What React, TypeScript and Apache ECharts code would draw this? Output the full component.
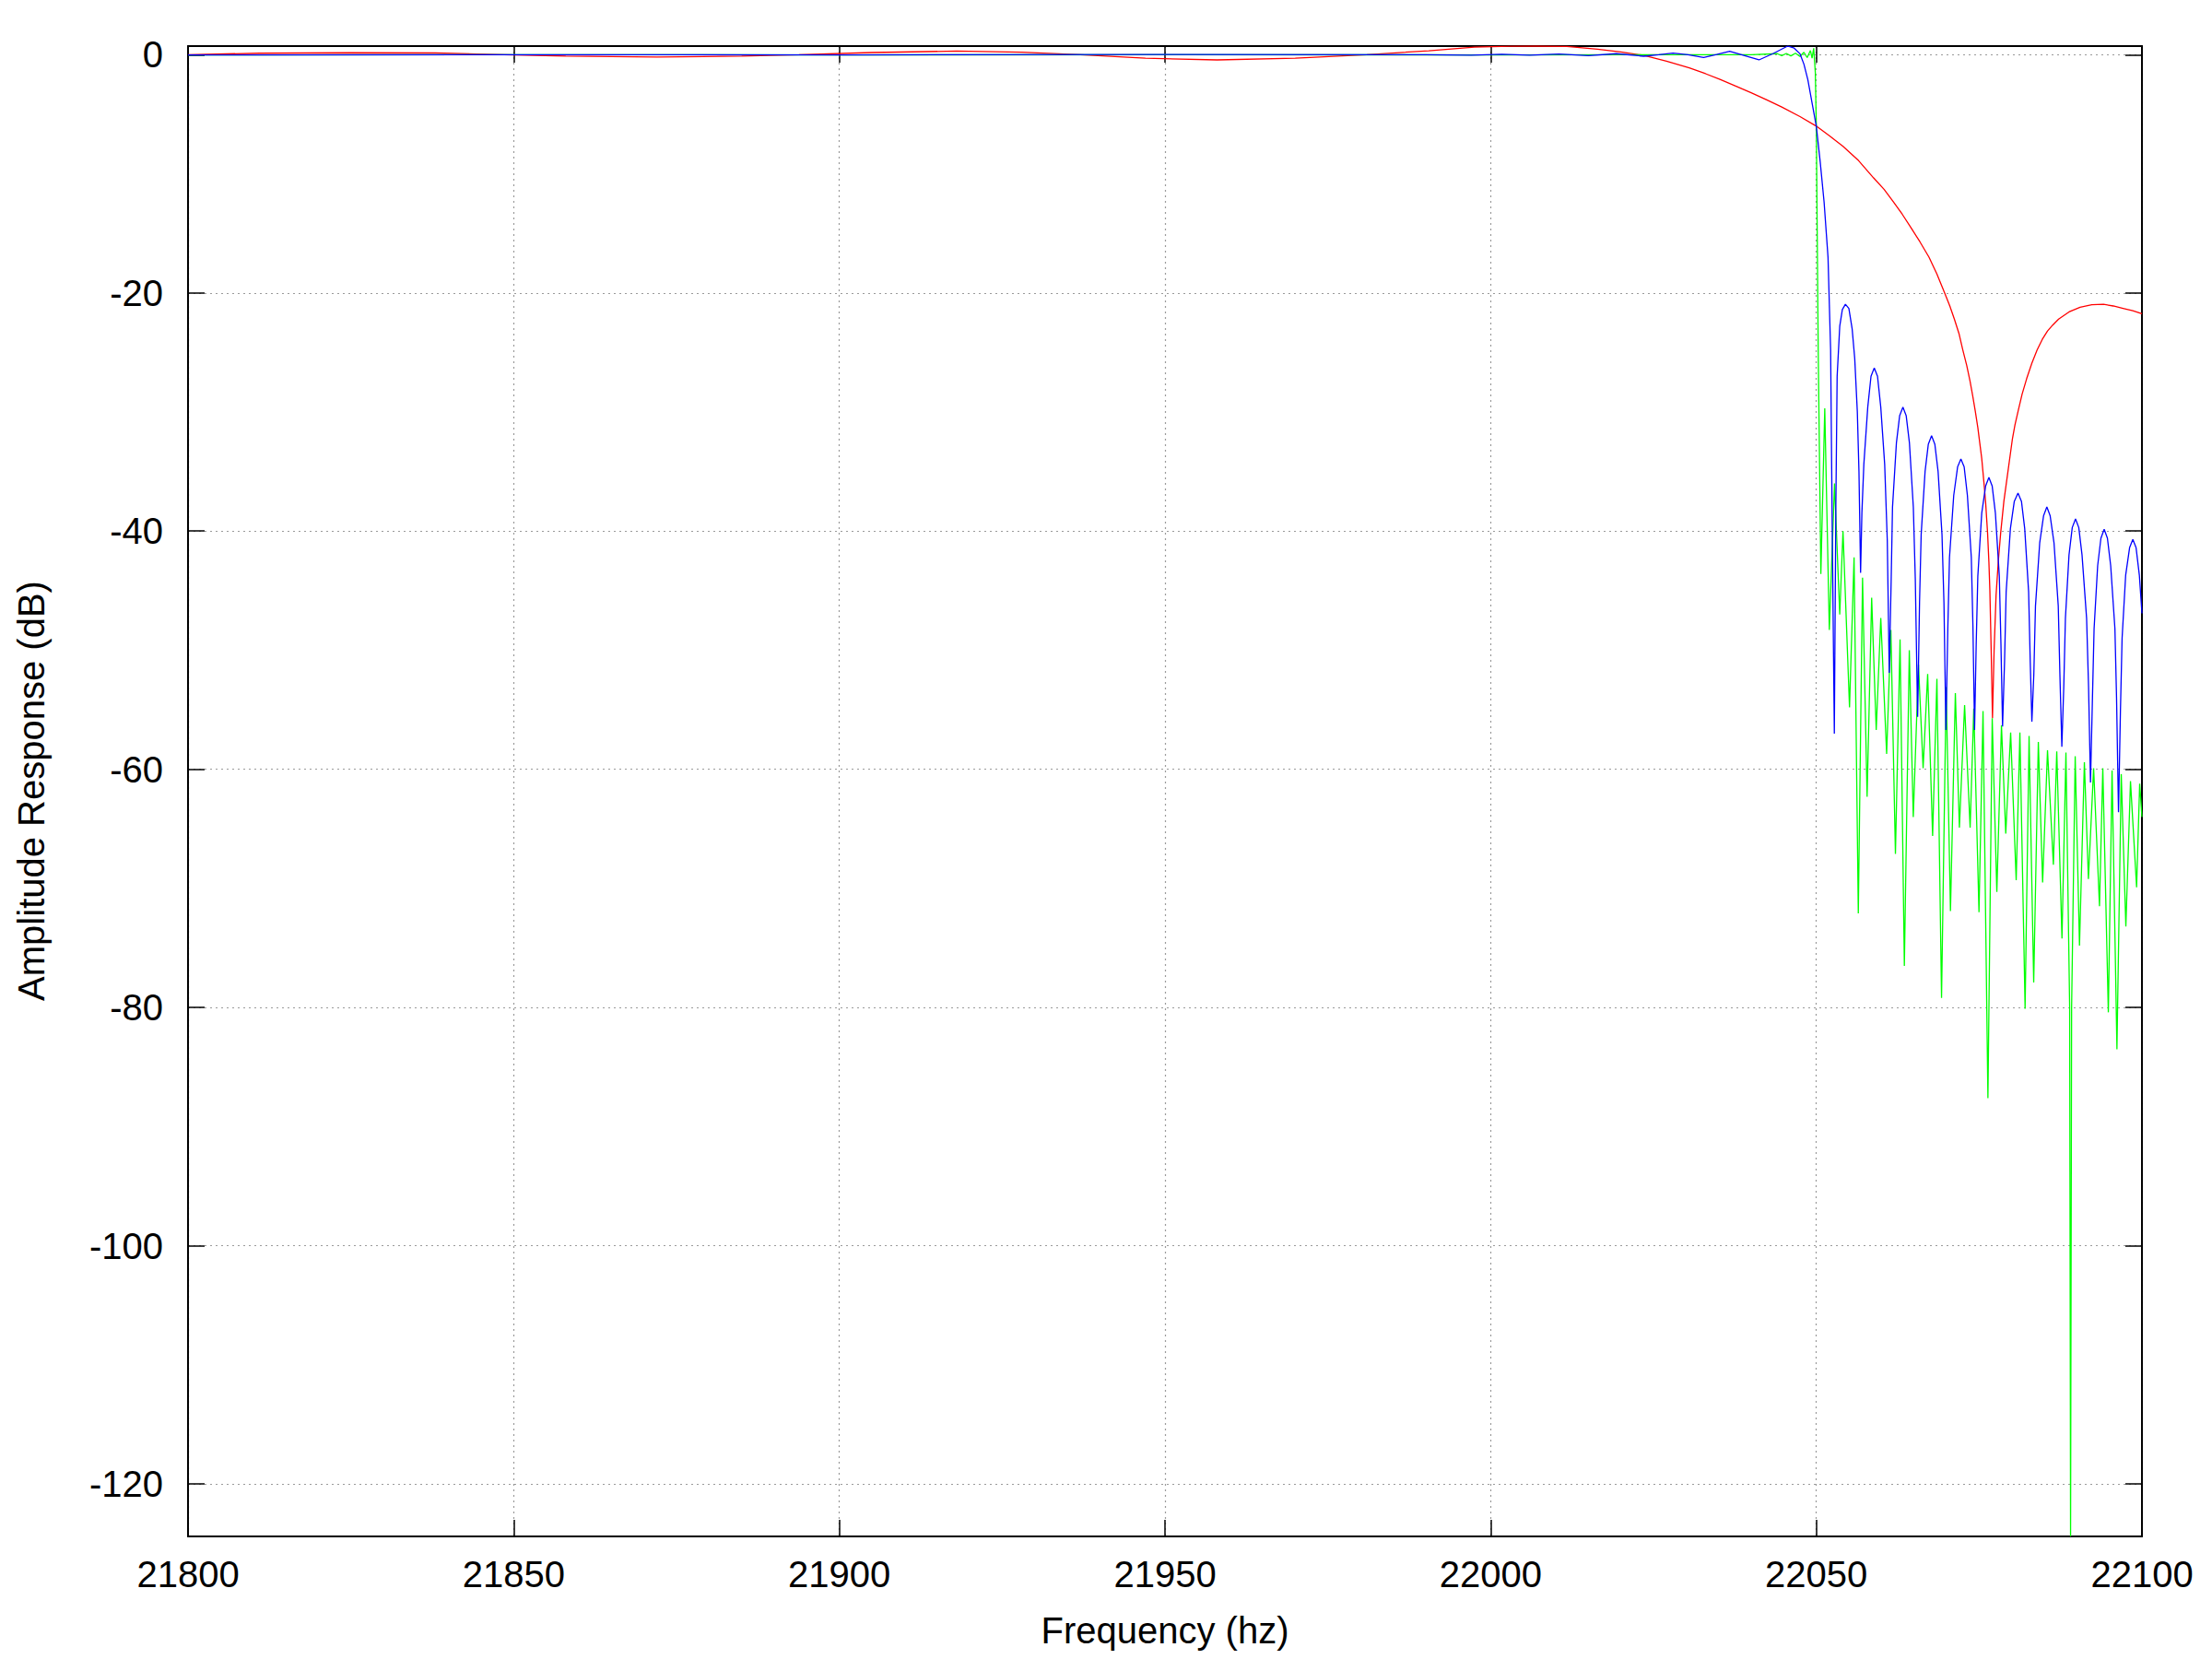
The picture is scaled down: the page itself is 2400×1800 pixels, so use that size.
import React, { useEffect, useRef } from "react";
import * as echarts from "echarts";

// Axis ranges and ticks
const X_MIN = 21800;
const X_MAX = 22100;
const X_STEP = 50;
const Y_MIN = -124.4;
const Y_MAX = 0.72;
const yTicks = [0, -20, -40, -60, -80, -100, -120];

const xAxisTitle = "Frequency (hz)";
const yAxisTitle = "Amplitude Response (dB)";

// Red filter response [Hz, dB]
const redResponse: [number, number][] = [
  [21800, 0.0], [21811, 0.12], [21825, 0.16], [21838, 0.14], [21848.5, 0.0],
  [21858, -0.12], [21872, -0.2], [21885, -0.12], [21893.8, 0.0], [21905, 0.18],
  [21918, 0.3], [21928, 0.2], [21937, 0.0], [21947, -0.3], [21958, -0.44],
  [21970, -0.3], [21981, 0.0], [21990.5, 0.33], [21997.5, 0.64], [22003, 0.71],
  [22007, 0.72], [22011.7, 0.69], [22016.4, 0.46], [22020, 0.22], [22023.4, -0.05],
  [22027, -0.55], [22030.5, -1.1], [22033, -1.6], [22035.3, -2.1], [22037.7, -2.65],
  [22040, -3.2], [22042.4, -3.8], [22044.7, -4.4], [22047.5, -5.2], [22050, -6.0],
  [22052, -6.8], [22054.1, -7.7], [22056.5, -8.9], [22058.8, -10.35], [22060.4, -11.3],
  [22061.9, -12.4], [22063.2, -13.4], [22064.5, -14.5], [22065.9, -15.7], [22067.3, -17.0],
  [22068.5, -18.4], [22069.7, -20.0], [22070.5, -21.1], [22071.2, -22.2], [22071.9, -23.4],
  [22072.5, -24.8], [22073.1, -26.1], [22073.6, -27.4], [22074.0, -28.6], [22074.4, -29.9],
  [22074.8, -31.3], [22075.1, -32.6], [22075.4, -33.9], [22075.6, -35.1], [22075.8, -36.3],
  [22076.0, -37.6], [22076.15, -38.9], [22076.3, -40.2], [22076.5, -42.6], [22076.65, -45.0],
  [22076.85, -50.0], [22077.05, -55.7], [22077.3, -50.0], [22077.6, -45.4], [22077.95, -42.5],
  [22078.3, -40.2], [22078.8, -37.5], [22079.4, -35.1], [22080.1, -32.3], [22080.5, -31.1],
  [22081.0, -29.9], [22081.6, -28.5], [22082.3, -27.2], [22083.1, -25.9], [22083.9, -24.8],
  [22084.7, -23.9], [22085.5, -23.2], [22086.3, -22.7], [22087.2, -22.2], [22088.8, -21.6],
  [22090.5, -21.2], [22092.3, -21.0], [22094.1, -20.96], [22095.6, -21.1], [22097.1, -21.3],
  [22098.6, -21.5], [22100, -21.75],
];

// Green filter response [Hz, dB]
const greenResponse: [number, number][] = [
  [21800, -0.02], [21850, 0.0], [21900, -0.02], [21950, 0.0], [22000, -0.02],
  [22040, 0.0], [22044, 0.08], [22044.7, -0.08], [22045.4, 0.1], [22046.1, -0.1],
  [22046.8, 0.12], [22047.5, -0.15], [22048.1, 0.2], [22048.6, -0.25], [22049.1, 0.35],
  [22049.35, -0.3], [22049.6, 0.54], [22049.85, -1.5], [22050.0, -6.0], [22050.3, -25.0],
  [22050.7, -43.6], [22051.3, -29.7], [22052.0, -48.3], [22052.8, -36.0], [22053.6, -47.0],
  [22054.1, -40.0], [22055.1, -54.8], [22055.8, -42.2], [22056.45, -72.1], [22057.1, -43.9],
  [22057.8, -62.3], [22058.5, -45.6], [22059.2, -56.7], [22059.9, -47.3], [22060.8, -58.7],
  [22061.45, -48.3], [22062.15, -67.1], [22062.86, -49.1], [22063.52, -76.5], [22064.28, -50.0],
  [22064.89, -64.0], [22065.69, -51.2], [22066.4, -59.9], [22067.1, -52.0], [22067.86, -65.6],
  [22068.52, -52.4], [22069.23, -79.2], [22069.94, -53.1], [22070.6, -71.9], [22071.35, -53.6],
  [22071.97, -64.9], [22072.77, -54.6], [22073.62, -64.9], [22074.18, -54.9], [22074.98, -72.0],
  [22075.6, -55.1], [22076.35, -87.6], [22077.01, -55.7], [22077.72, -70.3], [22078.43, -56.3],
  [22079.09, -65.4], [22079.84, -56.9], [22080.69, -69.3], [22081.26, -56.9], [22082.06, -80.1],
  [22082.67, -57.2], [22083.38, -77.9], [22084.09, -57.7], [22084.75, -69.5], [22085.5, -58.4],
  [22086.4, -68.0], [22086.92, -58.5], [22087.72, -74.2], [22088.33, -58.6], [22088.9, -80.0],
  [22089.04, -124.4], [22089.2, -80.0], [22089.75, -58.9], [22090.41, -74.8], [22091.16, -59.4],
  [22091.78, -69.2], [22092.58, -59.9], [22093.48, -71.5], [22093.99, -59.9], [22094.84, -80.4],
  [22095.41, -60.1], [22096.16, -83.5], [22096.82, -60.4], [22097.53, -73.2], [22098.24, -61.0],
  [22099.18, -69.9], [22099.65, -61.2], [22100, -64.0],
];

// Blue filter response [Hz, dB]
const blueResponse: [number, number][] = [
  [21800, -0.02], [21850, 0.0], [21900, -0.02], [21950, 0.02], [21990, 0.0],
  [21997, -0.04], [22001.7, 0.04], [22006, -0.05], [22010.5, 0.05], [22015, -0.08],
  [22019.3, 0.08], [22023.5, -0.13], [22025.8, 0.0], [22028, 0.13], [22030.3, 0.0],
  [22032.7, -0.23], [22034.7, 0.02], [22036.7, 0.28], [22039, -0.08], [22041.2, -0.44],
  [22043.4, 0.1], [22045.6, 0.72], [22046.6, 0.55], [22047.5, 0.07], [22048.1, -0.8],
  [22048.7, -2.1], [22049.4, -4.2], [22050, -6.0], [22050.6, -9.0], [22051.2, -12.4],
  [22051.8, -17.0], [22052.2, -24.8], [22052.45, -40.0], [22052.77, -57.0],
  // sidelobe 1
  [22053.0, -38.0], [22053.2, -27.0], [22053.6, -22.8], [22054.0, -21.4], [22054.47, -20.96],
  [22055.0, -21.3], [22055.5, -23.0], [22055.9, -25.5], [22056.3, -30.0], [22056.55, -35.0],
  [22056.8, -43.5],
  // sidelobe 2
  [22057.0, -38.5], [22057.3, -34.4], [22057.9, -29.6], [22058.4, -27.0], [22058.9, -26.3],
  [22059.4, -27.0], [22059.9, -29.6], [22060.5, -34.4], [22060.9, -40.8], [22061.2, -51.9],
  // sidelobe 3
  [22061.5, -44.0], [22061.7, -38.0], [22062.3, -32.6], [22062.8, -30.3], [22063.3, -29.6],
  [22063.8, -30.3], [22064.3, -32.6], [22064.9, -38.0], [22065.2, -44.0], [22065.56, -55.6],
  // sidelobe 4
  [22065.85, -46.0], [22066.1, -40.3], [22066.7, -35.0], [22067.2, -32.7], [22067.7, -32.0],
  [22068.2, -32.7], [22068.7, -35.0], [22069.3, -40.3], [22069.6, -46.0], [22069.9, -56.7],
  // sidelobe 5
  [22070.2, -48.0], [22070.45, -42.2], [22071.1, -37.0], [22071.7, -34.6], [22072.2, -33.95],
  [22072.7, -34.6], [22073.2, -37.0], [22073.8, -42.2], [22074.05, -48.0], [22074.3, -56.7],
  // sidelobe 6
  [22074.55, -49.5], [22074.8, -43.8], [22075.4, -38.5], [22076.0, -36.2], [22076.5, -35.5],
  [22077.0, -36.2], [22077.5, -38.5], [22078.1, -43.8], [22078.35, -49.5], [22078.6, -56.4],
  // sidelobe 7
  [22078.9, -51.0], [22079.15, -45.1], [22079.8, -39.8], [22080.4, -37.5], [22080.97, -36.8],
  [22081.5, -37.5], [22082.0, -39.8], [22082.6, -45.1], [22082.85, -51.0], [22083.1, -56.0],
  // sidelobe 8
  [22083.4, -52.0], [22083.65, -46.3], [22084.3, -41.0], [22084.9, -38.7], [22085.4, -37.97],
  [22085.9, -38.7], [22086.5, -41.0], [22087.15, -46.3], [22087.4, -52.0], [22087.7, -58.1],
  // sidelobe 9
  [22088.0, -53.0], [22088.25, -47.3], [22088.8, -42.0], [22089.3, -39.7], [22089.8, -38.97],
  [22090.3, -39.7], [22090.8, -42.0], [22091.5, -47.3], [22091.8, -53.0], [22092.1, -61.1],
  // sidelobe 10
  [22092.4, -54.0], [22092.65, -48.2], [22093.2, -42.9], [22093.7, -40.6], [22094.2, -39.85],
  [22094.7, -40.6], [22095.2, -42.9], [22095.85, -48.2], [22096.1, -54.0], [22096.4, -63.6],
  // sidelobe 11
  [22096.7, -55.0], [22096.95, -49.0], [22097.5, -43.7], [22098.1, -41.4], [22098.6, -40.7],
  [22099.1, -41.4], [22099.6, -43.7], [22100, -46.9],
];

const FONT = "'Liberation Sans', Arial, Helvetica, sans-serif";

export default function App() {
  const ref = useRef<HTMLDivElement>(null);

  useEffect(() => {
    if (!ref.current) return;
    const chart = echarts.init(ref.current, null, { renderer: "svg" });
    const borderLine = { show: true, onZero: false, lineStyle: { color: "#000", width: 2 } };
    const tick = { show: true, inside: true, length: 18, lineStyle: { color: "#000", width: 1.5 } };
    const gridLine = { show: true, lineStyle: { color: "#9a9a9a", type: [2, 4], width: 1.2 } };
    const labelStyle = { color: "#000", fontSize: 40, fontFamily: FONT };

    chart.setOption({
      animation: false,
      backgroundColor: "#ffffff",
      grid: { left: 204, right: 76, top: 50, bottom: 133 },
      xAxis: [
        {
          type: "value", position: "bottom", min: X_MIN, max: X_MAX, interval: X_STEP,
          axisLine: borderLine, axisTick: tick,
          axisLabel: { ...labelStyle, margin: 21, formatter: (v: number) => String(v) },
          splitLine: gridLine,
        },
        {
          type: "value", position: "top", min: X_MIN, max: X_MAX, interval: X_STEP,
          axisLine: borderLine, axisTick: tick, axisLabel: { show: false }, splitLine: { show: false },
        },
      ],
      yAxis: [
        {
          type: "value", position: "left", min: Y_MIN, max: Y_MAX,
          axisLine: borderLine,
          axisTick: { ...tick, customValues: yTicks },
          axisLabel: { ...labelStyle, margin: 27, customValues: yTicks, formatter: (v: number) => String(v) },
          splitLine: gridLine,
        },
        {
          type: "value", position: "right", min: Y_MIN, max: Y_MAX,
          axisLine: borderLine,
          axisTick: { ...tick, customValues: yTicks },
          axisLabel: { show: false },
          splitLine: { show: false },
        },
      ],
      graphic: [
        {
          type: "text", x: 1264, y: 1769, silent: true,
          style: { text: xAxisTitle, fontSize: 40, fontFamily: FONT, fill: "#000", align: "center", verticalAlign: "middle" },
        },
        {
          type: "text", x: 34, y: 858, rotation: Math.PI / 2, silent: true,
          style: { text: yAxisTitle, fontSize: 40, fontFamily: FONT, fill: "#000", align: "center", verticalAlign: "middle" },
        },
      ],
      series: [
        {
          type: "line", data: redResponse, xAxisIndex: 0, yAxisIndex: 0, showSymbol: false,
          lineStyle: { color: "#ff0000", width: 1.3 }, itemStyle: { color: "#ff0000" }, clip: true,
        },
        {
          type: "line", data: greenResponse, xAxisIndex: 0, yAxisIndex: 0, showSymbol: false,
          lineStyle: { color: "#00ff00", width: 1.3 }, itemStyle: { color: "#00ff00" }, clip: true,
        },
        {
          type: "line", data: blueResponse, xAxisIndex: 0, yAxisIndex: 0, showSymbol: false,
          lineStyle: { color: "#0000ff", width: 1.3 }, itemStyle: { color: "#0000ff" }, clip: true,
        },
      ],
    });
    return () => chart.dispose();
  }, []);

  return (
    <div
      ref={ref}
      style={{ position: "fixed", left: 0, top: 0, width: 2400, height: 1800, background: "#fff" }}
    />
  );
}
